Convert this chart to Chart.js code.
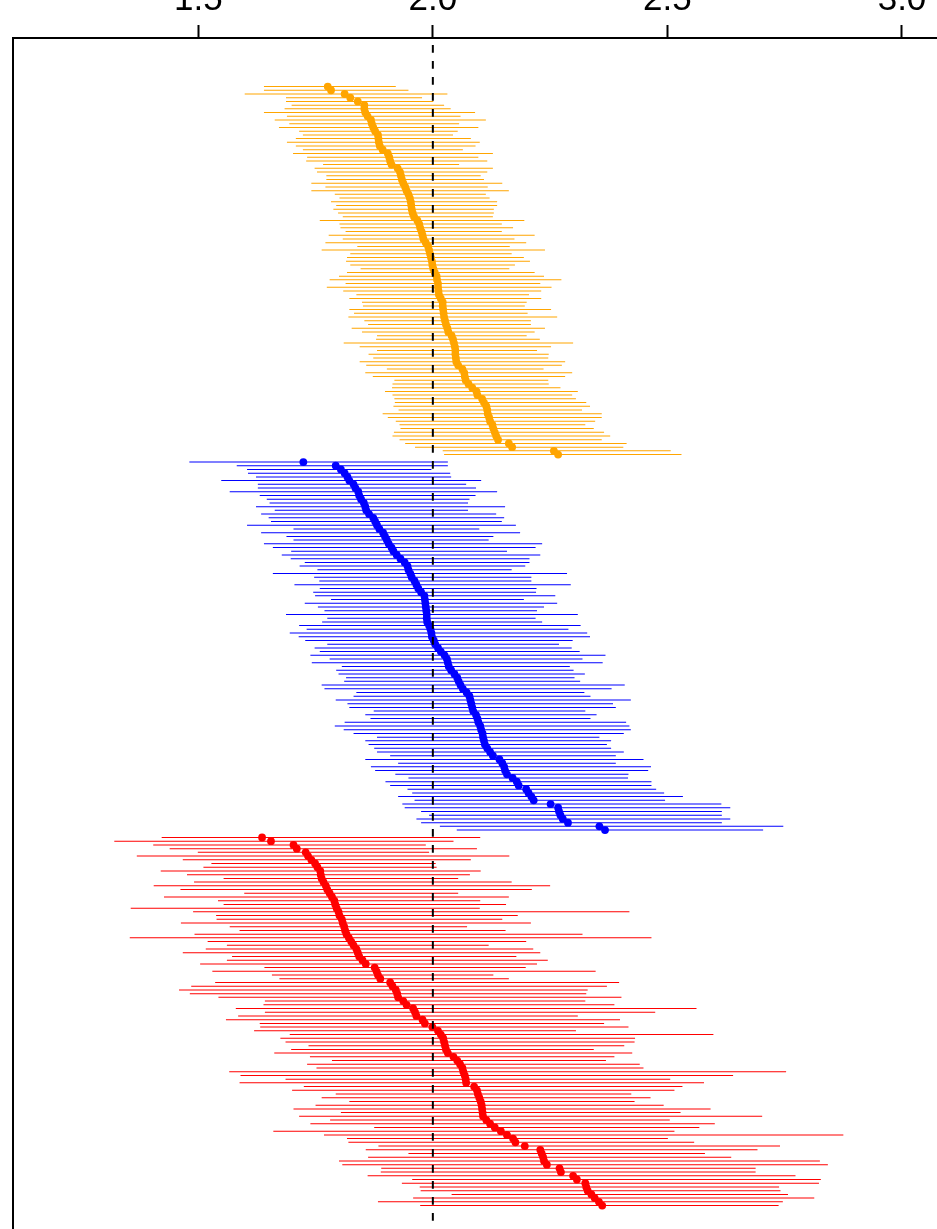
<!DOCTYPE html>
<html>
<head>
<meta charset="utf-8">
<title>Interval coverage</title>
<script src="https://cdn.jsdelivr.net/npm/chart.js@4.4.1/dist/chart.umd.min.js"></script>
<style>
  html, body { margin: 0; padding: 0; background: #ffffff; width: 937px; height: 1229px; overflow: hidden; }
  canvas { display: block; }
</style>
</head>
<body>
<canvas id="chart" width="1000" height="1300" style="width:1000px;height:1300px"></canvas>
<script>
// Axis ticks and the reference value marked by the dashed line
const tickValues = [1.5, 2.0, 2.5, 3.0];
const tickLabels = ['1.5', '2.0', '2.5', '3.0'];
const trueValue = 2.0;

// Orange block: point estimates (sorted) with lower / upper interval limits
const orangeEst = [
  1.776, 1.783, 1.812, 1.824, 1.840, 1.854, 1.854, 1.856, 1.861, 1.868,
  1.870, 1.873, 1.877, 1.883, 1.884, 1.885, 1.887, 1.893, 1.904, 1.907,
  1.909, 1.912, 1.925, 1.930, 1.932, 1.934, 1.937, 1.941, 1.944, 1.948,
  1.951, 1.953, 1.954, 1.955, 1.957, 1.960, 1.967, 1.971, 1.973, 1.976,
  1.978, 1.980, 1.985, 1.990, 1.992, 1.994, 1.996, 1.998, 1.999, 2.001,
  2.004, 2.008, 2.009, 2.011, 2.011, 2.012, 2.013, 2.017, 2.021, 2.021,
  2.022, 2.023, 2.024, 2.026, 2.028, 2.031, 2.033, 2.040, 2.043, 2.045,
  2.047, 2.048, 2.048, 2.049, 2.050, 2.054, 2.063, 2.067, 2.068, 2.070,
  2.076, 2.084, 2.093, 2.095, 2.105, 2.109, 2.114, 2.116, 2.117, 2.120,
  2.122, 2.127, 2.129, 2.132, 2.135, 2.139, 2.162, 2.169, 2.258, 2.267
];
const orangeLow = [
  1.640, 1.640, 1.599, 1.687, 1.687, 1.699, 1.684, 1.640, 1.689, 1.663,
  1.694, 1.672, 1.715, 1.723, 1.708, 1.689, 1.708, 1.723, 1.702, 1.732,
  1.730, 1.766, 1.748, 1.753, 1.773, 1.773, 1.741, 1.771, 1.741, 1.791,
  1.801, 1.783, 1.794, 1.788, 1.798, 1.808, 1.759, 1.801, 1.803, 1.814,
  1.778, 1.808, 1.771, 1.839, 1.763, 1.824, 1.817, 1.815, 1.824, 1.846,
  1.817, 1.800, 1.780, 1.814, 1.774, 1.809, 1.837, 1.822, 1.849, 1.851,
  1.822, 1.832, 1.820, 1.854, 1.862, 1.827, 1.849, 1.881, 1.879, 1.810,
  1.844, 1.881, 1.863, 1.873, 1.844, 1.858, 1.902, 1.856, 1.872, 1.918,
  1.914, 1.913, 1.898, 1.914, 1.918, 1.919, 1.916, 1.927, 1.893, 1.904,
  1.921, 1.929, 1.931, 1.917, 1.914, 1.929, 1.941, 1.962, 2.021, 2.024
];
const orangeHigh = [
  1.921, 1.948, 2.031, 1.977, 2.001, 2.024, 2.038, 2.090, 2.059, 2.113,
  2.056, 2.097, 2.053, 2.043, 2.081, 2.100, 2.091, 2.064, 2.128, 2.097,
  2.116, 2.056, 2.128, 2.116, 2.102, 2.109, 2.148, 2.117, 2.162, 2.113,
  2.121, 2.137, 2.137, 2.130, 2.130, 2.128, 2.195, 2.147, 2.171, 2.147,
  2.217, 2.174, 2.199, 2.164, 2.239, 2.168, 2.194, 2.207, 2.175, 2.163,
  2.217, 2.237, 2.274, 2.229, 2.253, 2.231, 2.205, 2.231, 2.200, 2.196,
  2.252, 2.202, 2.265, 2.209, 2.209, 2.239, 2.217, 2.200, 2.228, 2.299,
  2.252, 2.222, 2.247, 2.246, 2.282, 2.275, 2.236, 2.297, 2.282, 2.246,
  2.247, 2.272, 2.309, 2.297, 2.305, 2.327, 2.335, 2.318, 2.360, 2.360,
  2.346, 2.325, 2.343, 2.365, 2.378, 2.360, 2.413, 2.406, 2.507, 2.530
];

// Blue block
const blueEst = [
  1.724, 1.793, 1.804, 1.812, 1.818, 1.822, 1.831, 1.835, 1.841, 1.843,
  1.847, 1.853, 1.856, 1.858, 1.864, 1.873, 1.877, 1.881, 1.886, 1.894,
  1.898, 1.902, 1.906, 1.912, 1.916, 1.923, 1.931, 1.940, 1.946, 1.948,
  1.952, 1.955, 1.961, 1.965, 1.969, 1.975, 1.982, 1.983, 1.984, 1.985,
  1.986, 1.987, 1.987, 1.988, 1.992, 1.995, 1.997, 1.998, 2.002, 2.005,
  2.011, 2.017, 2.025, 2.030, 2.032, 2.034, 2.039, 2.046, 2.052, 2.055,
  2.059, 2.064, 2.072, 2.078, 2.080, 2.082, 2.084, 2.086, 2.092, 2.095,
  2.097, 2.101, 2.103, 2.106, 2.107, 2.109, 2.111, 2.116, 2.122, 2.128,
  2.142, 2.148, 2.152, 2.154, 2.158, 2.170, 2.179, 2.183, 2.199, 2.204,
  2.210, 2.215, 2.251, 2.267, 2.269, 2.272, 2.277, 2.288, 2.355, 2.367
];
const blueLow = [
  1.481, 1.582, 1.604, 1.606, 1.623, 1.549, 1.627, 1.627, 1.567, 1.631,
  1.646, 1.652, 1.623, 1.663, 1.634, 1.650, 1.655, 1.604, 1.703, 1.634,
  1.688, 1.703, 1.640, 1.659, 1.698, 1.678, 1.697, 1.727, 1.716, 1.754,
  1.659, 1.747, 1.758, 1.705, 1.759, 1.745, 1.749, 1.783, 1.727, 1.755,
  1.769, 1.687, 1.775, 1.764, 1.715, 1.731, 1.695, 1.714, 1.728, 1.775,
  1.748, 1.759, 1.739, 1.780, 1.742, 1.806, 1.794, 1.799, 1.815, 1.811,
  1.763, 1.769, 1.837, 1.831, 1.793, 1.818, 1.822, 1.874, 1.856, 1.867,
  1.812, 1.791, 1.810, 1.831, 1.881, 1.856, 1.863, 1.875, 1.881, 1.909,
  1.856, 1.926, 1.868, 1.877, 1.920, 1.948, 1.899, 1.909, 1.946, 1.956,
  1.926, 1.961, 1.935, 1.940, 1.975, 1.992, 1.965, 1.975, 2.015, 2.051
];
const blueHigh = [
  2.032, 2.032, 1.997, 2.037, 2.039, 2.103, 2.071, 2.092, 2.137, 2.091,
  2.078, 2.075, 2.154, 2.075, 2.135, 2.152, 2.147, 2.177, 2.099, 2.186,
  2.129, 2.119, 2.233, 2.219, 2.158, 2.229, 2.206, 2.206, 2.197, 2.168,
  2.286, 2.210, 2.210, 2.294, 2.221, 2.220, 2.261, 2.194, 2.265, 2.237,
  2.222, 2.309, 2.219, 2.233, 2.315, 2.289, 2.329, 2.335, 2.298, 2.269,
  2.296, 2.313, 2.368, 2.319, 2.362, 2.292, 2.300, 2.324, 2.302, 2.314,
  2.409, 2.381, 2.323, 2.336, 2.422, 2.384, 2.390, 2.325, 2.349, 2.336,
  2.412, 2.419, 2.422, 2.407, 2.355, 2.380, 2.371, 2.380, 2.407, 2.390,
  2.449, 2.390, 2.465, 2.459, 2.417, 2.416, 2.466, 2.466, 2.476, 2.493,
  2.533, 2.495, 2.615, 2.634, 2.616, 2.616, 2.634, 2.616, 2.747, 2.704
];

// Red block
const redEst = [
  1.636, 1.655, 1.703, 1.710, 1.729, 1.734, 1.741, 1.749, 1.754, 1.760,
  1.761, 1.763, 1.767, 1.772, 1.775, 1.780, 1.785, 1.790, 1.792, 1.795,
  1.799, 1.801, 1.806, 1.808, 1.811, 1.813, 1.816, 1.821, 1.826, 1.831,
  1.837, 1.840, 1.843, 1.850, 1.857, 1.876, 1.880, 1.883, 1.888, 1.909,
  1.914, 1.921, 1.924, 1.926, 1.937, 1.944, 1.958, 1.962, 1.965, 1.978,
  1.983, 1.999, 2.011, 2.017, 2.022, 2.024, 2.026, 2.028, 2.032, 2.044,
  2.052, 2.058, 2.063, 2.065, 2.068, 2.070, 2.071, 2.088, 2.094, 2.096,
  2.099, 2.102, 2.104, 2.105, 2.106, 2.107, 2.114, 2.122, 2.132, 2.145,
  2.158, 2.171, 2.176, 2.196, 2.229, 2.232, 2.235, 2.237, 2.243, 2.270,
  2.273, 2.299, 2.307, 2.325, 2.327, 2.330, 2.338, 2.345, 2.354, 2.361
];
const redLow = [
  1.422, 1.321, 1.404, 1.439, 1.499, 1.369, 1.467, 1.528, 1.511, 1.420,
  1.476, 1.554, 1.491, 1.405, 1.462, 1.598, 1.427, 1.542, 1.554, 1.356,
  1.489, 1.538, 1.539, 1.463, 1.567, 1.588, 1.492, 1.354, 1.520, 1.561,
  1.516, 1.467, 1.572, 1.561, 1.504, 1.641, 1.530, 1.657, 1.673, 1.536,
  1.485, 1.459, 1.482, 1.543, 1.642, 1.639, 1.580, 1.642, 1.585, 1.559,
  1.631, 1.632, 1.619, 1.695, 1.675, 1.686, 1.735, 1.698, 1.662, 1.738,
  1.785, 1.732, 1.752, 1.566, 1.590, 1.686, 1.588, 1.725, 1.700, 1.793,
  1.763, 1.822, 1.750, 1.703, 1.804, 1.715, 1.781, 1.739, 1.875, 1.660,
  1.768, 1.817, 1.820, 1.884, 1.857, 1.948, 1.862, 1.800, 1.807, 1.890,
  1.889, 1.861, 1.956, 1.934, 1.972, 1.974, 2.040, 1.958, 1.883, 1.973
];
const redHigh = [
  2.101, 2.044, 1.985, 2.094, 1.992, 2.163, 2.081, 2.006, 2.008, 2.102,
  2.079, 2.054, 2.168, 2.250, 2.211, 2.054, 2.162, 2.101, 2.156, 2.100,
  2.419, 2.181, 2.148, 2.209, 2.073, 2.155, 2.319, 2.466, 2.199, 2.119,
  2.214, 2.229, 2.178, 2.245, 2.222, 2.198, 2.347, 2.129, 2.162, 2.397,
  2.371, 2.330, 2.327, 2.402, 2.325, 2.387, 2.562, 2.474, 2.309, 2.399,
  2.365, 2.417, 2.305, 2.598, 2.431, 2.430, 2.408, 2.343, 2.425, 2.387,
  2.369, 2.441, 2.449, 2.753, 2.640, 2.506, 2.578, 2.532, 2.515, 2.423,
  2.464, 2.430, 2.492, 2.592, 2.528, 2.702, 2.505, 2.601, 2.568, 2.515,
  2.875, 2.501, 2.557, 2.740, 2.692, 2.580, 2.636, 2.825, 2.842, 2.688,
  2.688, 2.773, 2.827, 2.823, 2.738, 2.741, 2.757, 2.813, 2.746, 2.737
];

// Each block occupies consecutive rows, with one empty row between blocks
const blocks = [
  { color: '#FFA500', est: orangeEst, low: orangeLow, high: orangeHigh, firstRow: 1 },
  { color: '#0000FF', est: blueEst,   low: blueLow,   high: blueHigh,   firstRow: 102 },
  { color: '#FF0000', est: redEst,    low: redLow,    high: redHigh,    firstRow: 203 }
];

// Visible value range of the plot region
const xMin = 1.1051, xMax = 3.2006;
const rowMin = -12.06, rowMax = 326.36;

const datasets = [];

// Dashed vertical line at the reference value (drawn on top)
datasets.push({
  type: 'line',
  indexAxis: 'x',
  data: [{ x: trueValue, y: rowMin }, { x: trueValue, y: rowMax }],
  borderColor: '#000000',
  borderWidth: 2,
  borderDash: [7.7, 8.3],
  borderDashOffset: 9,
  pointRadius: 0,
  fill: false,
  order: 0
});

// Point estimates
blocks.forEach(b => {
  datasets.push({
    type: 'scatter',
    indexAxis: 'x',
    data: b.est.map((v, i) => ({ x: v, y: b.firstRow + i })),
    backgroundColor: b.color,
    borderColor: b.color,
    pointRadius: 3.9,
    pointHoverRadius: 3.9,
    pointBorderWidth: 0,
    order: 1
  });
});

// Interval segments as thin floating bars
blocks.forEach(b => {
  datasets.push({
    type: 'bar',
    indexAxis: 'y',
    data: b.low.map((lo, i) => ({ x: [lo, b.high[i]], y: b.firstRow + i })),
    backgroundColor: b.color,
    borderWidth: 0,
    grouped: false,
    maxBarThickness: 1,
    barPercentage: 1,
    categoryPercentage: 1,
    inflateAmount: 0,
    order: 2
  });
});

new Chart(document.getElementById('chart'), {
  type: 'bar',
  data: { datasets },
  options: {
    indexAxis: 'y',
    responsive: false,
    animation: false,
    devicePixelRatio: 1,
    events: [],
    layout: { padding: 0 },
    plugins: { legend: { display: false }, tooltip: { enabled: false } },
    scales: {
      x: {
        type: 'linear',
        position: 'top',
        min: xMin,
        max: xMax,
        offset: false,
        beginAtZero: false,
        bounds: 'data',
        afterBuildTicks: scale => { scale.ticks = tickValues.map(v => ({ value: v })); },
        afterFit: scale => { scale.height = 38; },
        ticks: {
          autoSkip: false,
          maxRotation: 0,
          padding: 4,
          color: '#000000',
          font: { family: "'Liberation Sans', Arial, Helvetica, sans-serif", size: 35 },
          callback: value => tickLabels[tickValues.indexOf(value)] ?? ''
        },
        grid: {
          offset: false,
          drawOnChartArea: false,
          drawTicks: true,
          tickLength: 13,
          tickWidth: 2,
          tickColor: '#000000'
        },
        border: { display: true, color: '#000000', width: 2 }
      },
      y: {
        type: 'linear',
        position: 'left',
        reverse: true,
        min: rowMin,
        max: rowMax,
        offset: false,
        beginAtZero: false,
        bounds: 'data',
        afterFit: scale => { scale.width = 13; },
        ticks: { display: false },
        grid: { display: false, drawTicks: false, offset: false },
        border: { display: true, color: '#000000', width: 2 }
      }
    }
  }
});
</script>
</body>
</html>
